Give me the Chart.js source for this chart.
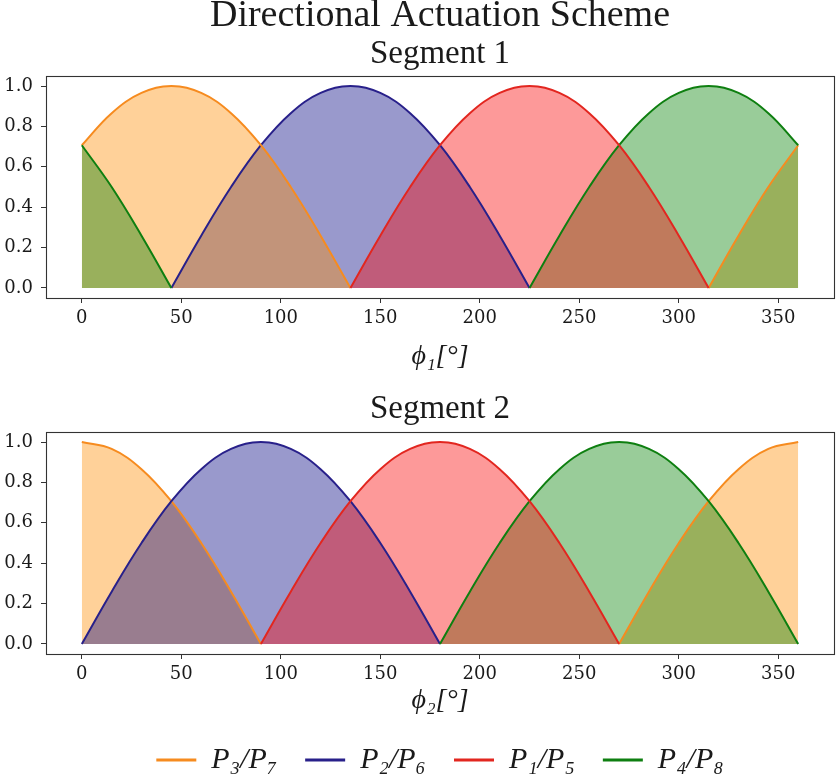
<!DOCTYPE html>
<html lang="en">
<head>
<meta charset="UTF-8">
<title>Directional Actuation Scheme</title>
<script src="https://cdn.jsdelivr.net/npm/chart.js"></script>
<style>
  html, body { margin: 0; padding: 0; background: #fff; overflow: hidden; }
  .box { position: absolute; left: 0; width: 838px; }
  #top { top: 0; }
  #bottom { top: 380px; }
</style>
</head>
<body>

<div class="box" id="top"><canvas id="seg1" width="838" height="380"></canvas></div>
<div class="box" id="bottom"><canvas id="seg2" width="838" height="405"></canvas></div>

<script>
  // angle samples (degrees)
  const phi = [0, 15, 30, 45, 60, 75, 90, 105, 120, 135, 150, 165, 180,
               195, 210, 225, 240, 255, 270, 285, 300, 315, 330, 345, 360];
  const xTicks = [0, 50, 100, 150, 200, 250, 300, 350];
  const yTicks = [0, 0.2, 0.4, 0.6, 0.8, 1.0];
  const names = ['P₃/P₇', 'P₂/P₆', 'P₁/P₅', 'P₄/P₈'];

  // Segment 1 (null = curve is zero there, no line drawn)
  const seg1P3 = [0.707, 0.866, 0.966, 1.000, 0.966, 0.866, 0.707, 0.500, 0.259, 0.000,
                  null, null, null, null, null, null, null, null, null, null, null,
                  0.000, 0.259, 0.500, 0.707];
  const seg1P2 = [null, null, null,
                  0.000, 0.259, 0.500, 0.707, 0.866, 0.966, 1.000, 0.966, 0.866, 0.707, 0.500, 0.259, 0.000,
                  null, null, null, null, null, null, null, null, null];
  const seg1P1 = [null, null, null, null, null, null, null, null, null,
                  0.000, 0.259, 0.500, 0.707, 0.866, 0.966, 1.000, 0.966, 0.866, 0.707, 0.500, 0.259, 0.000,
                  null, null, null];
  const seg1P4 = [0.707, 0.500, 0.259, 0.000,
                  null, null, null, null, null, null, null, null, null, null, null,
                  0.000, 0.259, 0.500, 0.707, 0.866, 0.966, 1.000, 0.966, 0.866, 0.707];

  // Segment 2
  const seg2P3 = [1.000, 0.966, 0.866, 0.707, 0.500, 0.259, 0.000,
                  null, null, null, null, null, null, null, null, null, null, null,
                  0.000, 0.259, 0.500, 0.707, 0.866, 0.966, 1.000];
  const seg2P2 = [0.000, 0.259, 0.500, 0.707, 0.866, 0.966, 1.000, 0.966, 0.866, 0.707, 0.500, 0.259, 0.000,
                  null, null, null, null, null, null, null, null, null, null, null, null];
  const seg2P1 = [null, null, null, null, null, null,
                  0.000, 0.259, 0.500, 0.707, 0.866, 0.966, 1.000, 0.966, 0.866, 0.707, 0.500, 0.259, 0.000,
                  null, null, null, null, null, null];
  const seg2P4 = [null, null, null, null, null, null, null, null, null, null, null, null,
                  0.000, 0.259, 0.500, 0.707, 0.866, 0.966, 1.000, 0.966, 0.866, 0.707, 0.500, 0.259, 0.000];

  const lineColors = ['#f68b1f', '#28208a', '#e2261f', '#0e7f10'];
  const fillColors = ['rgba(255,140,0,0.4)', 'rgba(0,0,128,0.4)', 'rgba(250,0,0,0.4)', 'rgba(0,128,0,0.4)'];

  const txt = '#1a1a1a';
  const tickFont = { family: 'DejaVu Serif', size: 18 };

  // box around the plot area
  const frame = {
    id: 'frame',
    afterDatasetsDraw(chart) {
      const { ctx, chartArea: a } = chart;
      ctx.save();
      ctx.strokeStyle = '#333';
      ctx.lineWidth = 1.1;
      const l = Math.round(a.left) + 0.5, t = Math.round(a.top) + 0.5;
      const r = Math.round(a.right) + 0.5, b = Math.round(a.bottom) + 0.5;
      ctx.strokeRect(l, t, r - l, b - t);
      ctx.restore();
    }
  };

  function makeDatasets(series, order) {
    return series.map((vals, i) => ({
      label: names[i],
      data: phi.map((x, k) => ({ x: x, y: vals[k] })),
      borderColor: lineColors[i],
      backgroundColor: fillColors[i],
      borderWidth: 2,
      pointRadius: 0,
      fill: 'origin',
      spanGaps: false,
      tension: 0.4,
      order: order[i]
    }));
  }

  function makeScales(xLabel, xHeight, titlePad) {
    return {
      x: {
        type: 'linear', min: -18, max: 378,
        afterBuildTicks: s => { s.ticks = xTicks.map(v => ({ value: v })); },
        afterFit: s => { s.height = xHeight; },
        grid: { drawOnChartArea: false, drawTicks: true, tickLength: 5, tickColor: '#333' },
        border: { display: false },
        ticks: { font: tickFont, color: txt, padding: 5, maxRotation: 0, autoSkip: false,
                 callback: v => String(v) },
        title: { display: true, text: xLabel, color: txt,
                 font: { family: 'Liberation Serif', size: 28, style: 'italic' },
                 padding: { top: 0, bottom: titlePad } }
      },
      y: {
        min: -0.05, max: 1.05,
        afterBuildTicks: s => { s.ticks = yTicks.map(v => ({ value: v })); },
        afterFit: s => { s.width = 46; },
        grid: { drawOnChartArea: false, drawTicks: true, tickLength: 5, tickColor: '#333' },
        border: { display: false },
        ticks: { font: tickFont, color: txt, padding: 8, callback: v => v.toFixed(1) }
      }
    };
  }

  new Chart(document.getElementById('seg1'), {
    type: 'line',
    data: { datasets: makeDatasets([seg1P3, seg1P2, seg1P1, seg1P4], [3, 4, 1, 2]) },
    options: {
      responsive: false,
      animation: false,
      layout: { padding: { left: 0, right: 4, top: 0, bottom: 0 } },
      scales: makeScales('ϕ₁[°]', 82, 7),
      plugins: {
        filler: { drawTime: 'beforeDatasetsDraw' },
        legend: { display: false },
        tooltip: { enabled: false },
        title: {
          display: true, fullSize: false, text: 'Directional Actuation Scheme', color: txt,
          font: { family: 'Liberation Serif', size: 38, weight: 'normal', lineHeight: 0.7105 },
          padding: { top: 3, bottom: 0 }
        },
        subtitle: {
          display: true, fullSize: false, text: 'Segment 1', color: txt,
          font: { family: 'Liberation Serif', size: 33, weight: 'normal', lineHeight: 1.0909 },
          padding: { top: 6, bottom: 4 }
        }
      }
    },
    plugins: [frame]
  });

  new Chart(document.getElementById('seg2'), {
    type: 'line',
    data: { datasets: makeDatasets([seg2P3, seg2P2, seg2P1, seg2P4], [4, 3, 1, 2]) },
    options: {
      responsive: false,
      animation: false,
      layout: { padding: { left: 0, right: 4, top: 0, bottom: 0 } },
      scales: makeScales('ϕ₂[°]', 63, 0),
      plugins: {
        filler: { drawTime: 'beforeDatasetsDraw' },
        tooltip: { enabled: false },
        title: {
          display: true, fullSize: false, text: 'Segment 2', color: txt,
          font: { family: 'Liberation Serif', size: 33, weight: 'normal', lineHeight: 1.2121 },
          padding: { top: 9, bottom: 3 }
        },
        legend: {
          display: true, position: 'bottom', fullSize: false,
          labels: {
            boxWidth: 40, boxHeight: 3, padding: 28, color: txt,
            font: { family: 'Liberation Serif', size: 30, style: 'italic' },
            generateLabels: chart => chart.data.datasets.map((d, i) => ({
              text: d.label, fillStyle: d.borderColor, strokeStyle: d.borderColor,
              lineWidth: 0, hidden: false, datasetIndex: i, fontColor: txt
            }))
          }
        }
      }
    },
    plugins: [frame]
  });
</script>

</body>
</html>
